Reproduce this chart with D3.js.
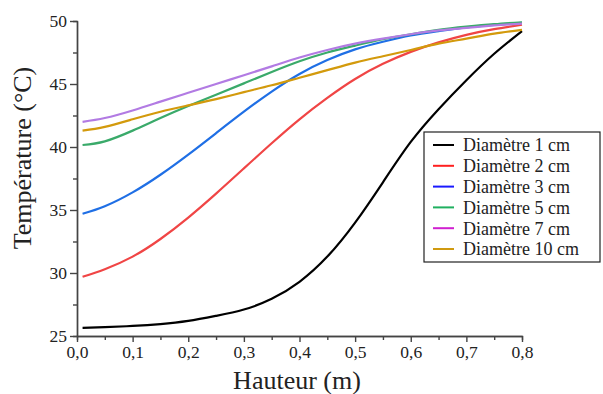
<!DOCTYPE html>
<html>
<head>
<meta charset="utf-8">
<script src="https://cdn.jsdelivr.net/npm/d3@7"></script>
<style>
  body { margin: 0; background: #fff; }
  svg text { font-family: "Liberation Serif", "Times New Roman", serif; fill: #222; }
</style>
</head>
<body>
<svg id="chart" width="603" height="394"></svg>
<script>
// hauteur (m)
const hauteur = [0.01, 0.05, 0.1, 0.15, 0.2, 0.25, 0.3, 0.35, 0.4, 0.45, 0.5, 0.55, 0.6, 0.65, 0.7, 0.75, 0.8];

// température (°C) for each diameter
const temp1cm  = [25.65, 25.7, 25.8, 25.95, 26.2, 26.6, 27.1, 27.95, 29.3, 31.3, 34.0, 37.2, 40.4, 43.0, 45.3, 47.4, 49.2];
const temp2cm  = [29.7, 30.3, 31.3, 32.7, 34.4, 36.3, 38.3, 40.3, 42.2, 43.9, 45.4, 46.6, 47.55, 48.3, 48.9, 49.35, 49.7];
const temp3cm  = [34.7, 35.3, 36.4, 37.8, 39.4, 41.1, 42.8, 44.4, 45.8, 46.9, 47.75, 48.35, 48.85, 49.2, 49.5, 49.7, 49.85];
const temp5cm  = [40.16, 40.45, 41.3, 42.3, 43.25, 44.15, 45.05, 45.95, 46.8, 47.5, 48.05, 48.55, 48.95, 49.3, 49.55, 49.75, 49.9];
const temp7cm  = [42.0, 42.3, 42.9, 43.6, 44.3, 45.0, 45.7, 46.4, 47.1, 47.7, 48.2, 48.6, 48.95, 49.25, 49.45, 49.65, 49.8];
const temp10cm = [41.3, 41.6, 42.2, 42.8, 43.3, 43.8, 44.35, 44.9, 45.5, 46.1, 46.7, 47.2, 47.7, 48.2, 48.6, 49.0, 49.3];

const labels = ['Diamètre 1 cm', 'Diamètre 2 cm', 'Diamètre 3 cm', 'Diamètre 5 cm', 'Diamètre 7 cm', 'Diamètre 10 cm'];
const lineColors = ['#000000', '#f04545', '#1f6fe5', '#3aaa6a', '#b27be3', '#d39a0c'];
const legendColors = ['#000000', '#ff2020', '#1a1aff', '#20b060', '#d020d0', '#d09a10'];
const series = [temp1cm, temp2cm, temp3cm, temp5cm, temp7cm, temp10cm];

const xTicks = [0, 0.1, 0.2, 0.3, 0.4, 0.5, 0.6, 0.7, 0.8];
const yTicks = [25, 30, 35, 40, 45, 50];

let svg = d3.select('#chart');
let mLeft = 77, mRight = 522, mTop = 21, mBottom = 336;

let xScale = d3.scaleLinear().domain([0, 0.8]).range([mLeft, mRight]);
let yScale = d3.scaleLinear().domain([25, 50]).range([mBottom, mTop]);

let fmt = d => d3.format('.1f')(d).replace('.', ',');

// minor ticks
let xMinor = d3.axisBottom(xScale).tickValues(d3.range(0.05, 0.8, 0.1)).tickSize(4).tickFormat('');
let yMinor = d3.axisLeft(yScale).tickValues(d3.range(27.5, 50, 5)).tickSize(4).tickFormat('');

svg.append('g').attr('transform', `translate(0,${mBottom})`).call(xMinor);
svg.append('g').attr('transform', `translate(${mLeft},0)`).call(yMinor);

let xAxis = svg.append('g')
    .attr('transform', `translate(0,${mBottom})`)
    .call(d3.axisBottom(xScale).tickValues(xTicks).tickSize(6).tickSizeOuter(0).tickPadding(4).tickFormat(fmt));
let yAxis = svg.append('g')
    .attr('transform', `translate(${mLeft},0)`)
    .call(d3.axisLeft(yScale).tickValues(yTicks).tickSize(7).tickSizeOuter(0).tickPadding(3));

svg.selectAll('.domain, .tick line').attr('stroke', '#444').attr('stroke-width', 1.4);
svg.selectAll('.tick text')
    .attr('font-size', 17.5)
    .style('font-family', '"Liberation Serif", serif')
    .attr('fill', '#222');

// curves
let line = d3.line()
    .x((d, i) => xScale(hauteur[i]))
    .y(d => yScale(d))
    .curve(d3.curveNatural);

svg.selectAll('.serie')
    .data(series)
    .enter()
    .append('path')
    .attr('class', 'serie')
    .attr('d', d => line(d))
    .attr('fill', 'none')
    .attr('stroke', (d, i) => lineColors[i])
    .attr('stroke-width', 2.2);

// axis titles
svg.append('text')
    .attr('x', 297)
    .attr('y', 389)
    .attr('text-anchor', 'middle')
    .attr('font-size', 26)
    .text('Hauteur (m)');
svg.append('text')
    .attr('transform', 'translate(31,158) rotate(-90)')
    .attr('text-anchor', 'middle')
    .attr('font-size', 26)
    .text('Température (°C)');

// legend
let legend = svg.append('g').attr('transform', 'translate(424,132)');
legend.append('rect')
    .attr('width', 176).attr('height', 130)
    .attr('fill', '#fff').attr('stroke', '#222').attr('stroke-width', 1.2);
let items = legend.selectAll('.item')
    .data(labels)
    .enter()
    .append('g')
    .attr('class', 'item')
    .attr('transform', (d, i) => `translate(0,${13 + i * 20.8})`);
items.append('line')
    .attr('x1', 9).attr('x2', 30)
    .attr('stroke', (d, i) => legendColors[i])
    .attr('stroke-width', 2);
items.append('text')
    .attr('x', 39)
    .attr('dy', '0.35em')
    .attr('font-size', 18)
    .text(d => d);
</script>
</body>
</html>
